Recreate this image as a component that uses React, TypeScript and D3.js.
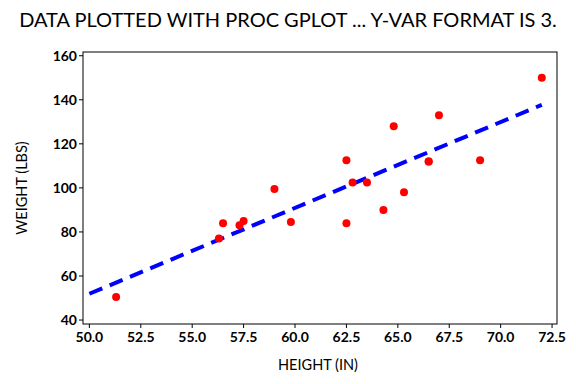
import React from "react";
import * as d3 from "d3";

const heights = [69.0, 56.5, 65.3, 62.8, 63.5, 57.3, 59.8, 62.5, 62.5, 59.0, 51.3, 64.3, 56.3, 66.5, 72.0, 64.8, 67.0, 57.5, 66.5];
const weights = [112.5, 84.0, 98.0, 102.5, 102.5, 83.0, 84.5, 112.5, 84.0, 99.5, 50.5, 90.0, 77.0, 112.0, 150.0, 128.0, 133.0, 85.0, 112.0];
const xTicks = [50, 52.5, 55, 57.5, 60, 62.5, 65, 67.5, 70, 72.5];
const yTicks = [40, 60, 80, 100, 120, 140, 160];
const fitX = [50, 72];
const title = "DATA PLOTTED WITH PROC GPLOT ... Y-VAR FORMAT IS 3.";

export default function App() {
  const W = 576, H = 384;
  const left = 83, right = 557, top = 52, bottom = 324;
  const x = d3.scaleLinear().domain([49.69, 72.74]).range([left, right]);
  const y = d3.scaleLinear().domain([38.2, 161.7]).range([bottom, top]);
  // least squares fit
  const mx = d3.mean(heights)!, my = d3.mean(weights)!;
  let sxy = 0, sxx = 0;
  heights.forEach((h, i) => { sxy += (h - mx) * (weights[i] - my); sxx += (h - mx) ** 2; });
  const b = sxy / sxx, a = my - b * mx;
  const line = d3.line<number>().x(d => x(d)).y(d => y(a + b * d));
  const font = "Lato, 'Open Sans', sans-serif";
  return (
    <svg width={W} height={H} style={{ position: "absolute", left: 0, top: 0 }} fontFamily={font}>
      <rect width={W} height={H} fill="white" />
      <text x={288} y={27} textAnchor="middle" fontSize={20} fill="#000">{title}</text>
      <rect x={left} y={top} width={right - left} height={bottom - top} fill="none" stroke="#000" strokeWidth={1} />
      {yTicks.map(t => (
        <g key={"y" + t}>
          <line x1={left - 4} x2={left} y1={y(t)} y2={y(t)} stroke="#000" />
          <text x={left - 6} y={y(t)} dy="0.35em" textAnchor="end" fontSize={14} fontWeight="bold">{t}</text>
        </g>
      ))}
      {xTicks.map(t => (
        <g key={"x" + t}>
          <line x1={x(t)} x2={x(t)} y1={bottom} y2={bottom + 4} stroke="#000" />
          <text x={x(t)} y={bottom + 18} textAnchor="middle" fontSize={14} fontWeight="bold">{t.toFixed(1)}</text>
        </g>
      ))}
      <text x={(left + right) / 2 - 2} y={370} textAnchor="middle" fontSize={14.5}>HEIGHT (IN)</text>
      <text transform={`translate(22,${(top + bottom) / 2}) rotate(-90)`} textAnchor="middle" dy="0.35em" fontSize={14.5}>WEIGHT (LBS)</text>
      <path d={line(fitX)!} fill="none" stroke="#0000ff" strokeWidth={4} strokeDasharray="14,8" />
      {heights.map((h, i) => (
        <circle key={i} cx={x(h)} cy={y(weights[i])} r={4} fill="#ff0000" />
      ))}
    </svg>
  );
}
